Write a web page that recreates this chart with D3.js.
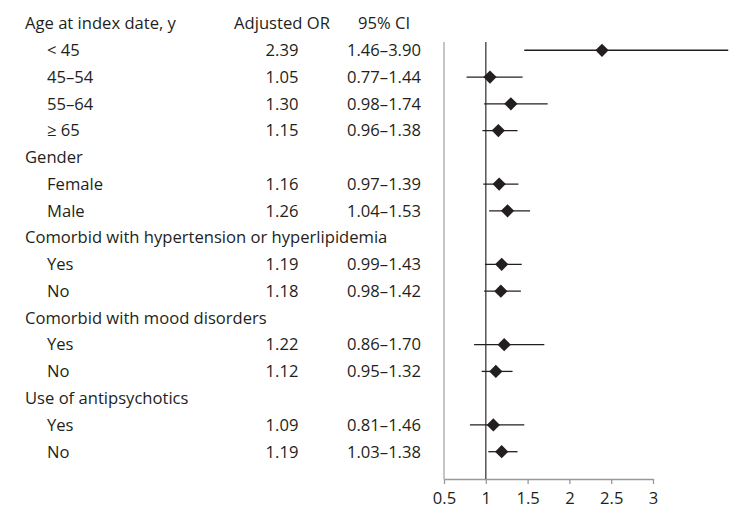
<!DOCTYPE html>
<meta charset="utf-8">
<html lang="en">
<head>
<style>
  body { margin: 0; background: #fff; }
  svg text { font-family: "Open Sans", sans-serif; font-size: 16.6px; fill: #231f20; }
  .axis text { font-size: 16.6px; }
  .axis path, .axis line { stroke: #999; stroke-width: 1.3; }
</style>
</head>
<body>
<div id="chart"></div>
<script src="https://d3js.org/d3.v7.min.js"></script>
<script>
// rows of the table, top to bottom (null = group heading row)
var rowLabels = ["Age at index date, y", "< 45", "45–54", "55–64", "≥ 65",
  "Gender", "Female", "Male",
  "Comorbid with hypertension or hyperlipidemia", "Yes", "No",
  "Comorbid with mood disorders", "Yes", "No",
  "Use of antipsychotics", "Yes", "No"];
var orValues = [null, 2.39, 1.05, 1.30, 1.15, null, 1.16, 1.26, null, 1.19, 1.18, null, 1.22, 1.12, null, 1.09, 1.19];
var ciLow    = [null, 1.46, 0.77, 0.98, 0.96, null, 0.97, 1.04, null, 0.99, 0.98, null, 0.86, 0.95, null, 0.81, 1.03];
var ciHigh   = [null, 3.90, 1.44, 1.74, 1.38, null, 1.39, 1.53, null, 1.43, 1.42, null, 1.70, 1.32, null, 1.46, 1.38];
var xTicks = [0.5, 1, 1.5, 2, 2.5, 3];
var colHeaders = ["Adjusted OR", "95% CI"];

var width = 742, height = 525;

var svg = d3.select("#chart").append("svg")
    .attr("width", width)
    .attr("height", height);

// x scale for the forest plot
var x = d3.scaleLinear().domain([0.5, 3]).range([444, 653]);
// row index -> vertical centre of the row
var y = d3.scaleLinear().domain([0, rowLabels.length - 1]).range([23.5, 451.7]);

var plotTop = 42, plotBottom = 479;
var orX = 282, ciX = 384;

// column headers
svg.append("text").attr("x", orX).attr("y", y(0)).attr("dy", "0.35em")
  .attr("text-anchor", "middle").text(colHeaders[0]);
svg.append("text").attr("x", ciX).attr("y", y(0)).attr("dy", "0.35em")
  .attr("text-anchor", "middle").text(colHeaders[1]);

var rows = rowLabels.map(function(l, i) {
  return { label: l, i: i, or: orValues[i], lo: ciLow[i], hi: ciHigh[i] };
});

// labels
svg.append("g").selectAll("text")
  .data(rows).enter().append("text")
    .attr("x", function(d) { return d.or === null ? 25 : 47; })
    .attr("y", function(d) { return y(d.i); })
    .attr("dy", "0.35em")
    .text(function(d) { return d.label; });

var data = rows.filter(function(d) { return d.or !== null; });

// OR column
svg.append("g").selectAll("text")
  .data(data).enter().append("text")
    .attr("x", orX)
    .attr("y", function(d) { return y(d.i); })
    .attr("dy", "0.35em")
    .attr("text-anchor", "middle")
    .text(function(d) { return d.or.toFixed(2); });

// CI column
svg.append("g").selectAll("text")
  .data(data).enter().append("text")
    .attr("x", ciX)
    .attr("y", function(d) { return y(d.i); })
    .attr("dy", "0.35em")
    .attr("text-anchor", "middle")
    .text(function(d) { return d.lo.toFixed(2) + "–" + d.hi.toFixed(2); });

// left frame line and x axis
svg.append("line")
  .attr("x1", x(0.5)).attr("x2", x(0.5))
  .attr("y1", plotTop).attr("y2", plotBottom)
  .attr("stroke", "#a6a6a6").attr("stroke-width", 1.3);

svg.append("g")
  .attr("class", "axis")
  .attr("transform", "translate(0," + plotBottom + ")")
  .call(d3.axisBottom(x).tickValues(xTicks).tickSize(5).tickSizeOuter(0)
    .tickFormat(d3.format("")))
  .call(function(g) { g.selectAll("text").attr("dy", "1.05em").attr("fill", "#231f20"); });

// reference line at OR = 1
svg.append("line")
  .attr("x1", x(1)).attr("x2", x(1))
  .attr("y1", plotTop).attr("y2", plotBottom)
  .attr("stroke", "#555").attr("stroke-width", 1.5);

// CI lines
svg.append("g").selectAll("line")
  .data(data).enter().append("line")
    .attr("x1", function(d) { return x(d.lo); })
    .attr("x2", function(d) { return x(d.hi); })
    .attr("y1", function(d) { return y(d.i); })
    .attr("y2", function(d) { return y(d.i); })
    .attr("stroke", "#231f20")
    .attr("stroke-width", 1.3);

// diamonds
var diamond = d3.symbol().type(d3.symbolSquare).size(88);
svg.append("g").selectAll("path")
  .data(data).enter().append("path")
    .attr("d", diamond)
    .attr("transform", function(d) { return "translate(" + x(d.or) + "," + y(d.i) + ") rotate(45)"; })
    .attr("fill", "#231f20");
</script>
</body>
</html>
